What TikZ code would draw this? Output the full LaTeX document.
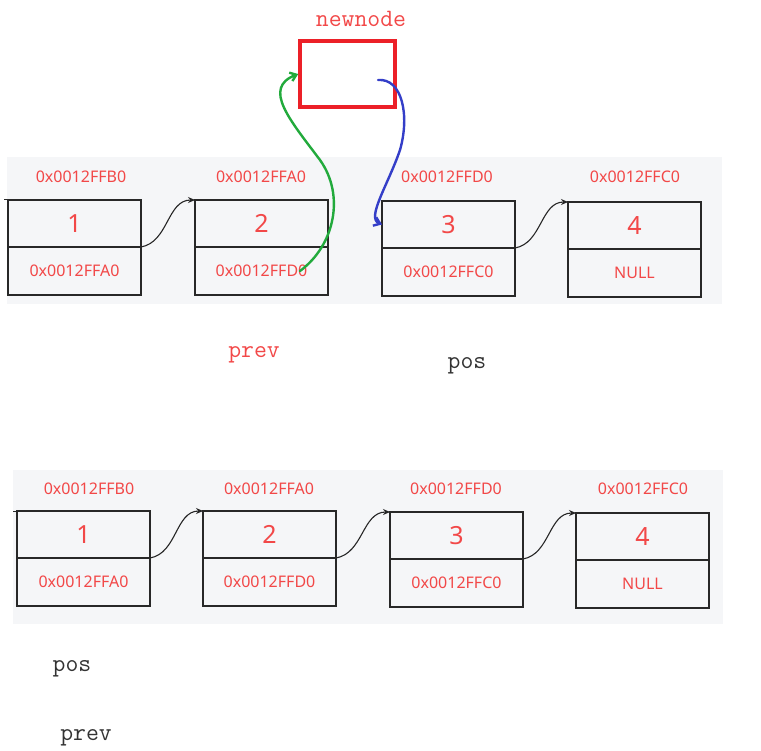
\documentclass[tikz,border=0pt]{standalone}
\usepackage{fontspec}
\setsansfont{Noto Sans}
\usepackage{tikz}
\usetikzlibrary{arrows.meta,positioning,calc}
\definecolor{memred}{RGB}{242,72,72}
\definecolor{newred}{RGB}{236,32,40}
\definecolor{panelgray}{RGB}{245,246,248}
\definecolor{boxline}{RGB}{40,40,40}
\definecolor{penGreen}{RGB}{34,170,60}
\definecolor{penBlue}{RGB}{52,62,200}

\tikzset{
  datafield/.style={draw=boxline,line width=1.6pt,minimum width=133pt,minimum height=47pt,
    inner sep=0pt,outer sep=0pt,anchor=north west,text=memred,font=\sffamily\fontsize{25}{28}\selectfont},
  nextfield/.style={draw=boxline,line width=1.6pt,minimum width=133pt,minimum height=48pt,
    inner sep=0pt,outer sep=0pt,text=memred,font=\sffamily\fontsize{16}{19}\selectfont},
  addr/.style={text=memred,font=\sffamily\fontsize{16}{19}\selectfont},
  link/.style={-{Stealth[length=7pt,width=6pt]},line width=1.1pt,black!85},
  varname/.style={anchor=base,font=\ttfamily\fontsize{25}{28}\selectfont},
  pen/.style={line width=2.4pt,line cap=round,line join=round},
}

\begin{document}
\begin{tikzpicture}[x=1pt,y=-1pt]
  \useasboundingbox (0,0) rectangle (761,751);

  % Panels
  \fill[panelgray] (7,157) rectangle (722,304);
  \fill[panelgray] (13,470) rectangle (723,624);

  % List before insertion
  \foreach \i/\x/\y/\val/\nxt in {1/8/200/1/0x0012FFA0, 2/195/200/2/0x0012FFD0,
                                  3/382/201/3/0x0012FFC0, 4/568/202/4/NULL} {
    \node[datafield] (t\i) at (\x,\y) {\val};
    \node[nextfield,below=0pt of t\i] (tn\i) {\nxt};
  }
  \node[addr] (ta1) at (81,177) {0x0012FFB0};
  \node[addr] (ta2) at (261,177) {0x0012FFA0};
  \node[addr] (ta3) at (447,177) {0x0012FFD0};
  \node[addr] (ta4) at (635,177) {0x0012FFC0};

  \coordinate (tstub) at (4,200);
  \draw[line width=1pt,boxline] (tstub) -- (t1.north west);
  \draw[link] (tn1.north east) to[out=10,in=180] (t2.north west);
  \draw[link] (tn3.north east) to[out=10,in=180] (t4.north west);

  % New node
  \node[draw=newred,line width=3.5pt,minimum width=95pt,minimum height=66pt] (newnode) at (347.5,74) {};
  \node[varname,text=memred] (newlabel) at (361,27) {newnode};

  % Hand-drawn links
  \coordinate (gstart) at (300,271);
  \draw[pen,penGreen,-{Straight Barb[length=6pt,width=9pt]}] (gstart)
    .. controls (335,245) and (345,195) .. (320,160)
    .. controls (290,120) and (262,88) .. (newnode.west);
  \coordinate (bstart) at (378,80);
  \draw[pen,penBlue,-{Straight Barb[length=6pt,width=9pt]}] (bstart)
    .. controls (402,78) and (410,115) .. (400,150)
    .. controls (388,185) and (366,218) .. (t3.west);

  \node[varname,text=memred] (prev1) at (254,358) {prev};
  \node[varname,text=black!80] (pos1) at (467,369) {pos};

  % List after insertion
  \foreach \i/\x/\y/\val/\nxt in {1/17/511/1/0x0012FFA0, 2/203/511/2/0x0012FFD0,
                                  3/390/512/3/0x0012FFC0, 4/576/513/4/NULL} {
    \node[datafield] (b\i) at (\x,\y) {\val};
    \node[nextfield,below=0pt of b\i] (bn\i) {\nxt};
  }
  \node[addr] (ba1) at (89,489) {0x0012FFB0};
  \node[addr] (ba2) at (269,489) {0x0012FFA0};
  \node[addr] (ba3) at (456,489) {0x0012FFD0};
  \node[addr] (ba4) at (643,489) {0x0012FFC0};

  \coordinate (bstub) at (13,511);
  \draw[line width=1pt,boxline] (bstub) -- (b1.north west);
  \draw[link] (bn1.north east) to[out=10,in=180] (b2.north west);
  \draw[link] (bn2.north east) to[out=10,in=180] (b3.north west);
  \draw[link] (bn3.north east) to[out=10,in=180] (b4.north west);

  \node[varname,text=black!80] (pos2) at (72,671) {pos};
  \node[varname,text=black!80] (prev2) at (86,740) {prev};
\end{tikzpicture}
\end{document}
